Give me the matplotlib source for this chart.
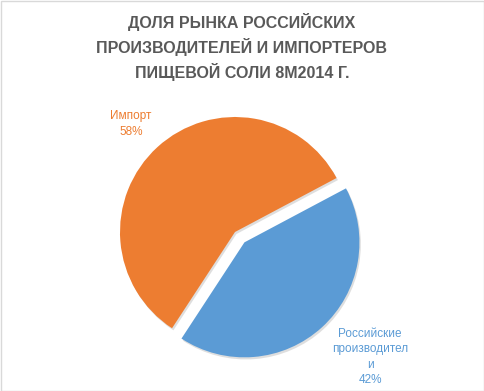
import matplotlib.pyplot as plt
import matplotlib.patheffects as pe
from matplotlib.patches import Rectangle

plt.rcParams['font.family'] = ['Liberation Sans', 'DejaVu Sans']

labels = ["Импорт", "Российские\nпроизводител\nи"]
shares = [58, 42]
colors = ["#ED7D31", "#5B9BD5"]
title = "ДОЛЯ РЫНКА РОССИЙСКИХ\nПРОИЗВОДИТЕЛЕЙ И ИМПОРТЕРОВ\nПИЩЕВОЙ СОЛИ 8М2014 Г."

W, H = 484, 391
fig = plt.figure(figsize=(W/100, H/100), dpi=100)
ax = fig.add_axes([0, 0, 1, 1])

R = 115
cx, cy = 235, H - 232
wedges, _ = ax.pie(shares, colors=colors, startangle=28, counterclock=True,
                   radius=R, center=(cx, cy), explode=[0, 14],
                   wedgeprops=dict(linewidth=0))
for w in wedges:
    w.set_path_effects([pe.SimplePatchShadow(offset=(1, -1.5), shadow_rgbFace='#7f7f7f', alpha=0.25),
                        pe.Normal()])
# pie resets the limits, so set them afterwards
ax.set_xlim(0, W)
ax.set_ylim(0, H)
ax.set_aspect('equal')
ax.axis('off')

# data labels
ax.text(131, H - 124, "%s\n%d%%" % (labels[0], shares[0]), color=colors[0],
        ha='center', va='center', fontsize=8.5, linespacing=1.45)
ax.text(370, H - 357, "%s\n%d%%" % (labels[1], shares[1]), color=colors[1],
        ha='center', va='center', fontsize=8.5, linespacing=1.4)

ax.text(W/2, H - 47, title, color="#595959", ha='center', va='center',
        fontsize=11.5, fontweight='bold', linespacing=1.45)

ax.add_patch(Rectangle((0.5, 0.5), W - 1, H - 1, fill=False,
                       edgecolor="#D9D9D9", linewidth=1))

fig.savefig("out.png", dpi=100)
